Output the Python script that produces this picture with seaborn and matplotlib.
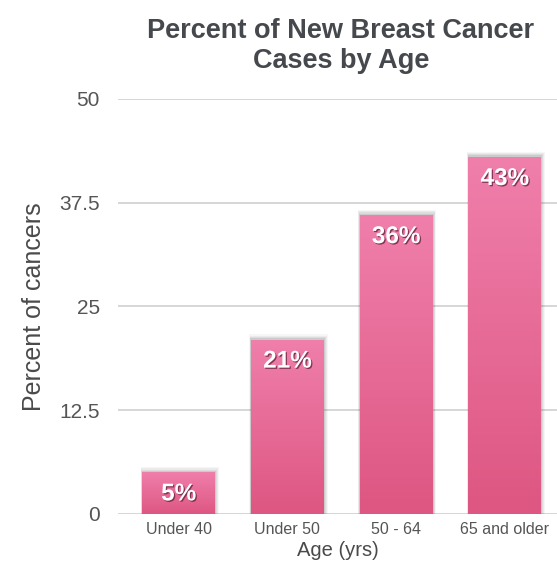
import numpy as np
import pandas as pd
import matplotlib.pyplot as plt
import matplotlib.patheffects as pe
from matplotlib.colors import LinearSegmentedColormap
from matplotlib.patches import Rectangle
import seaborn as sns

# Data
ages = ["Under 40", "Under 50", "50 - 64", "65 and older"]
percents = [5, 21, 36, 43]
yticks = [0, 12.5, 25, 37.5, 50]
ytick_labels = ["0", "12.5", "25", "37.5", "50"]

df = pd.DataFrame({"age": ages, "pct": percents})

sns.set_theme(style="white")
plt.rcParams["font.family"] = ["Liberation Sans", "DejaVu Sans"]

fig = plt.figure(figsize=(5.57, 5.85), dpi=100)
ax = fig.add_axes([0.212, 0.1214, 0.788, 0.7094])

sns.barplot(data=df, x="age", y="pct", color="#e86294", width=0.67,
            saturation=1, ax=ax, zorder=3)

# gradient fill + soft shadow for each bar
pink = LinearSegmentedColormap.from_list("pink", ["#de5682", "#f07fab"])
grad = np.linspace(0, 1, 256).reshape(-1, 1)
for bar in ax.patches:
    x, w, h = bar.get_x(), bar.get_width(), bar.get_height()
    for i, a in enumerate([0.05, 0.07, 0.09, 0.12]):
        d = 0.035 - i * 0.008
        ax.add_patch(Rectangle((x - d * 0.4, 0), w + d * 1.4, h + d * 18,
                               facecolor="#555555", alpha=a, lw=0, zorder=2))
    bar.set_facecolor("none")
    bar.set_edgecolor("none")
    im = ax.imshow(grad, cmap=pink, origin="lower", aspect="auto",
                   extent=[x, x + w, 0, h], zorder=3)
    im.set_clip_path(bar)

ax.set_xlim(-0.557, 3.48)
ax.set_ylim(0, 50)

# value labels
for i, v in enumerate(percents):
    ax.text(i, v - 1.2, f"{v}%", ha="center", va="top", color="white",
            fontsize=17.5, fontweight="semibold", zorder=5,
            path_effects=[pe.withSimplePatchShadow(offset=(0.9, -0.9),
                                                   shadow_rgbFace="#6a2440", alpha=0.8)])

ax.set_yticks(yticks)
ax.set_yticklabels(ytick_labels)
ax.yaxis.grid(True, color="#d0d0d0", linewidth=1.2, zorder=0)
ax.set_axisbelow(True)
for s in ax.spines.values():
    s.set_visible(False)

ax.tick_params(axis="y", labelsize=15, colors="#555555", pad=13, length=0)
ax.tick_params(axis="x", labelsize=11.5, colors="#555555", pad=6, length=0)

ax.set_xlabel("Age (yrs)", fontsize=14.5, color="#4a4a4a", labelpad=3)
ax.set_ylabel("Percent of cancers", fontsize=18, color="#4a4a4a", labelpad=10)

fig.suptitle("Percent of New Breast Cancer\nCases by Age", x=0.612, y=0.97,
             fontsize=19.5, fontweight="bold", color="#45484c", linespacing=1.2)

plt.savefig("out.png", dpi=100)
